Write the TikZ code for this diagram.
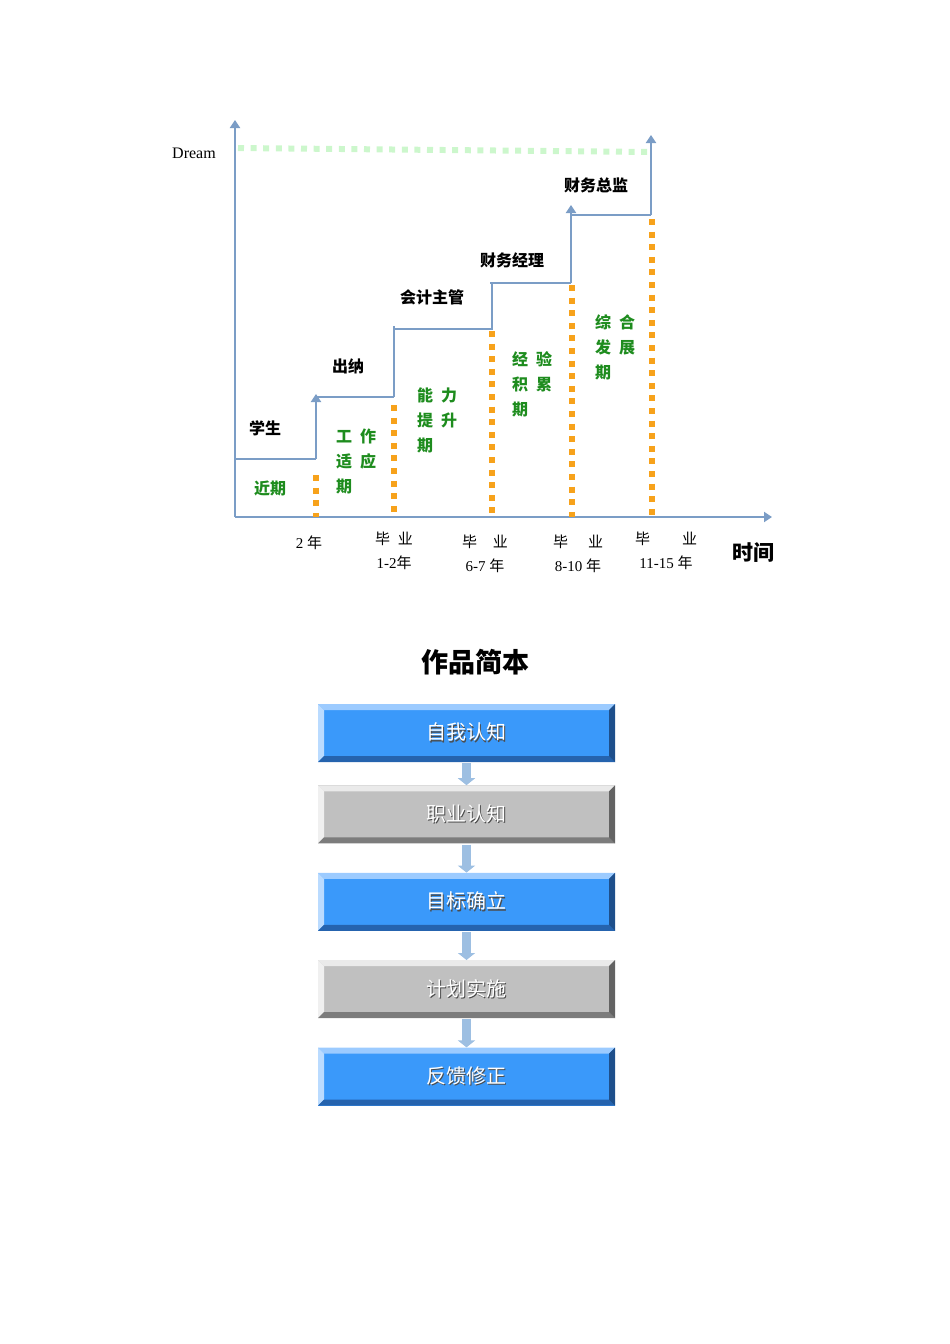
\documentclass[tikz,border=0pt]{standalone}
\usepackage{fontspec}
\setmainfont{Liberation Serif}
\newfontfamily\cjk{Noto Sans CJK SC}
\usetikzlibrary{arrows.meta,positioning}

\definecolor{axisblue}{HTML}{7B9DC6}
\definecolor{dotorange}{HTML}{F7A21B}
\definecolor{dreamgreen}{HTML}{CCF7CC}
\definecolor{stagegreen}{HTML}{1E8C1E}
\definecolor{faceblue}{HTML}{3A99FA}
\definecolor{liteblue}{HTML}{9CCBFF}
\definecolor{darkblue}{HTML}{2563AE}
\definecolor{facegray}{HTML}{C0C0C0}
\definecolor{litegray}{HTML}{EAEAEA}
\definecolor{darkgray}{HTML}{7C7C7C}
\definecolor{arrblue}{HTML}{9DBFE2}

\newcommand{\shadowtxt}[1]{\rlap{\kern1.4pt\raisebox{-1.4pt}{\color{black!70}#1}}#1}

\tikzset{
  stepline/.style={axisblue, line width=2.6pt},
  steparrow/.style={stepline, -{Triangle[width=10pt,length=8pt]}},
  orangedots/.style={dotorange, line width=6pt, dash pattern=on 6pt off 6.6pt},
  dreamdots/.style={dreamgreen, line width=6pt, dash pattern=on 6pt off 6.6pt},
  post/.style={font=\cjk\bfseries\fontsize{16}{18}\selectfont},
  stage/.style={text=stagegreen, font=\cjk\bfseries\fontsize{16}{25}\selectfont, align=left, anchor=west, inner sep=0pt},
  yearlbl/.style={font=\fontsize{15}{24}\selectfont, align=center, inner sep=0pt},
  blk/.style n args={3}{minimum width=297pt, minimum height=58pt, inner sep=0pt,
    fill=#1, text=white, font=\cjk\fontsize{20}{22}\selectfont,
    path picture={
      \coordinate (nw) at (path picture bounding box.north west);
      \coordinate (ne) at (path picture bounding box.north east);
      \coordinate (sw) at (path picture bounding box.south west);
      \coordinate (se) at (path picture bounding box.south east);
      \fill[#2] (nw) -- (ne) -- ([xshift=-6pt,yshift=-6pt]ne) -- ([xshift=6pt,yshift=-6pt]nw) -- cycle;
      \fill[#2!70!white] (nw) -- (sw) -- ([xshift=6pt,yshift=6pt]sw) -- ([xshift=6pt,yshift=-6pt]nw) -- cycle;
      \fill[#3] (sw) -- (se) -- ([xshift=-6pt,yshift=6pt]se) -- ([xshift=6pt,yshift=6pt]sw) -- cycle;
      \fill[#3!80!black] (ne) -- (se) -- ([xshift=-6pt,yshift=6pt]se) -- ([xshift=-6pt,yshift=-6pt]ne) -- cycle;
    }},
  blueblk/.style={blk={faceblue}{liteblue}{darkblue}},
  grayblk/.style={blk={facegray}{litegray}{darkgray}},
  downarr/.style={arrblue, line width=9pt, -{Triangle[width=17pt,length=7pt]}, shorten <=1pt}
}

\begin{document}
\begin{tikzpicture}[x=1pt, y=-1pt]
  \useasboundingbox (0,0) rectangle (950,1344);
  % axes
  \coordinate (O) at (235,517);
  \coordinate (Ytop) at (235,120);
  \coordinate (Xend) at (772,517);
  \draw[steparrow] (O) -- (Ytop);
  \draw[steparrow] (O) -- (Xend);
  \node[font=\fontsize{16}{18}\selectfont] (dream) at (194,153) {Dream};
  \coordinate (D-1) at (238,148);
  \coordinate (D-2) at (650,152);
  \draw[dreamdots] (D-1) -- (D-2);

  % staircase
  \coordinate (S-0) at (235,459);
  \coordinate (S-1) at (316,459);
  \coordinate (S-1t) at (316,394);
  \coordinate (S-2) at (316,397);
  \coordinate (S-2r) at (394,397);
  \coordinate (S-2t) at (394,326);
  \coordinate (S-3) at (394,329);
  \coordinate (S-3r) at (492,329);
  \coordinate (S-3t) at (492,282);
  \coordinate (S-4) at (490,283);
  \coordinate (S-4r) at (571,283);
  \coordinate (S-4t) at (571,205);
  \coordinate (S-5) at (571,215);
  \coordinate (S-5r) at (651,215);
  \coordinate (S-5t) at (651,135);
  \draw[stepline] (S-0) -- (S-1);
  \draw[steparrow] (S-1) -- (S-1t);
  \draw[stepline] (S-2) -- (S-2r);
  \draw[stepline] (S-2r) -- (S-2t);
  \draw[stepline] (S-3) -- (S-3r) -- (S-3t);
  \draw[stepline] (S-4) -- (S-4r);
  \draw[steparrow] (S-4r) -- (S-4t);
  \draw[stepline] (S-5) -- (S-5r);
  \draw[steparrow] (S-5r) -- (S-5t);

  % orange dotted columns
  \foreach \x/\y in {316/475, 394/405, 492/331, 572/285, 652/219}{
    \draw[orangedots] (\x,\y) -- (\x,517);
  }

  % posts
  \node[post] (P-1) at (265,428) {学生};
  \node[post] (P-2) at (348,366) {出纳};
  \node[post] (P-3) at (432,297) {会计主管};
  \node[post] (P-4) at (512,260) {财务经理};
  \node[post] (P-5) at (596,185) {财务总监};

  % stages
  \node[stage] (G-1) at (254,488) {近期};
  \node[stage] (G-2) at (336,461) {工\hspace{8pt}作\\适\hspace{8pt}应\\期};
  \node[stage] (G-3) at (417,420) {能\hspace{8pt}力\\提\hspace{8pt}升\\期};
  \node[stage] (G-4) at (512,384) {经\hspace{8pt}验\\积\hspace{8pt}累\\期};
  \node[stage] (G-5) at (595,347) {综\hspace{8pt}合\\发\hspace{8pt}展\\期};

  % time labels
  \node[yearlbl] (T-1) at (309,543) {2 {\cjk 年}};
  \node[yearlbl] (T-2) at (394,551) {{\cjk 毕\hspace{8pt}业}\\1-2{\cjk 年}};
  \node[yearlbl] (T-3) at (485,554) {{\cjk 毕\hspace{16pt}业}\\6-7 {\cjk 年}};
  \node[yearlbl] (T-4) at (578,554) {{\cjk 毕\hspace{20pt}业}\\8-10 {\cjk 年}};
  \node[yearlbl] (T-5) at (666,551) {{\cjk 毕\hspace{32pt}业}\\11-15 {\cjk 年}};
  \node[font=\cjk\bfseries\fontsize{21}{24}\selectfont] (time) at (753,553) {时间};

  % flow of the work
  \node[font=\cjk\bfseries\fontsize{27}{30}\selectfont] (title) at (475,662) {作品简本};
  \node[blueblk] (B-1) at (466.5,733) {\shadowtxt{自我认知}};
  \node[grayblk, below=23pt of B-1] (B-2) {\shadowtxt{职业认知}};
  \node[blueblk, below=29pt of B-2] (B-3) {\shadowtxt{目标确立}};
  \node[grayblk, below=29pt of B-3] (B-4) {\shadowtxt{计划实施}};
  \node[blueblk, below=29pt of B-4] (B-5) {\shadowtxt{反馈修正}};
  \foreach \a/\b in {1/2,2/3,3/4,4/5}{
    \draw[downarr] (B-\a) -- (B-\b);
  }
\end{tikzpicture}
\end{document}
